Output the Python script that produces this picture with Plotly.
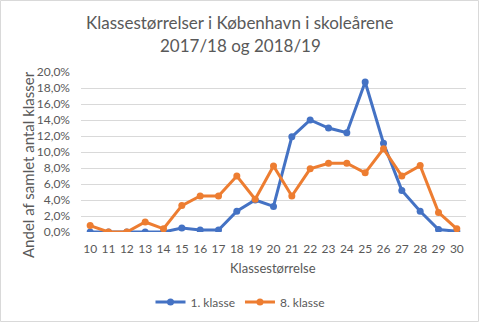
import plotly.graph_objects as go

# Class sizes (number of pupils per class)
class_sizes = [str(n) for n in range(10, 31)]

# Share of all classes (%) per class size
first_grade = [0.0, 0.0, 0.0, 0.0, 0.0, 0.5, 0.25, 0.25, 2.6, 4.0, 3.2,
               11.9, 14.0, 13.0, 12.4, 18.75, 11.1, 5.2, 2.6, 0.3, 0.1]
eighth_grade = [0.8, 0.0, 0.0, 1.25, 0.4, 3.3, 4.5, 4.5, 7.0, 4.1, 8.25,
                4.5, 7.9, 8.6, 8.6, 7.4, 10.4, 7.0, 8.3, 2.45, 0.4]

y_tick_values = [0, 2, 4, 6, 8, 10, 12, 14, 16, 18, 20]
y_tick_labels = ["0,0%", "2,0%", "4,0%", "6,0%", "8,0%", "10,0%",
                 "12,0%", "14,0%", "16,0%", "18,0%", "20,0%"]

title_lines = ["Klassestørrelser i København i skoleårene", "2017/18 og 2018/19"]
x_title = "Klassestørrelse"
y_title = "Andel af samlet antal klasser"

FONT = "Lato"
GREY = "#595959"

fig = go.Figure()
fig.add_trace(go.Scatter(
    x=class_sizes, y=first_grade, name="1. klasse", mode="lines+markers",
    line=dict(color="#4472C4", width=3), marker=dict(size=7, color="#4472C4"),
))
fig.add_trace(go.Scatter(
    x=class_sizes, y=eighth_grade, name="8. klasse", mode="lines+markers",
    line=dict(color="#ED7D31", width=3), marker=dict(size=7, color="#ED7D31"),
))

W, H = 480, 323
L, R, T, B = 81, 14, 72, 91
pw, ph = W - L - R, H - T - B


def px_x(x):
    return (x - L) / pw


def px_y(y):
    return (H - B - y) / ph


def label(text, x, y, size, angle=0):
    return dict(text=text, x=px_x(x), y=px_y(y), xref="paper", yref="paper",
                xanchor="center", yanchor="middle", showarrow=False,
                textangle=angle, font=dict(family=FONT, size=size, color=GREY))


annotations = [label(line, 240, yc, 17) for line, yc in zip(title_lines, [22, 45])]
annotations.append(label(x_title, 273, 268, 13))
annotations.append(label(y_title, 28, 165, 15, angle=-90))

fig.update_layout(
    width=W, height=H,
    margin=dict(l=L, r=R, t=T, b=B, autoexpand=False),
    paper_bgcolor="white", plot_bgcolor="white",
    font=dict(family=FONT, color=GREY, size=12),
    annotations=annotations,
    xaxis=dict(
        type="category", range=[-0.5, 20.5], showgrid=False,
        showline=False, ticks="", zeroline=False, automargin=False,
        tickfont=dict(size=12, color=GREY), ticklabelstandoff=8,
    ),
    yaxis=dict(
        range=[0, 20], tickvals=y_tick_values, ticktext=y_tick_labels,
        showgrid=True, gridcolor="#D9D9D9", gridwidth=1, zeroline=False,
        showline=False, ticks="", tickfont=dict(size=12, color=GREY),
        ticklabelstandoff=10, automargin=False,
    ),
    legend=dict(
        orientation="h", x=0.5, xref="container", xanchor="center",
        y=1 - 302 / H, yref="container", yanchor="middle",
        font=dict(size=12, color=GREY), itemwidth=30,
    ),
    shapes=[dict(
        type="rect", xref="paper", yref="paper",
        x0=-(L - 0.5) / pw, x1=1 + (R - 1.5) / pw,
        y0=-(B - 1.5) / ph, y1=1 + (T - 0.5) / ph,
        line=dict(color="#D9D9D9", width=1), fillcolor="rgba(0,0,0,0)",
        layer="below",
    )],
)

fig.write_html("out.html")
